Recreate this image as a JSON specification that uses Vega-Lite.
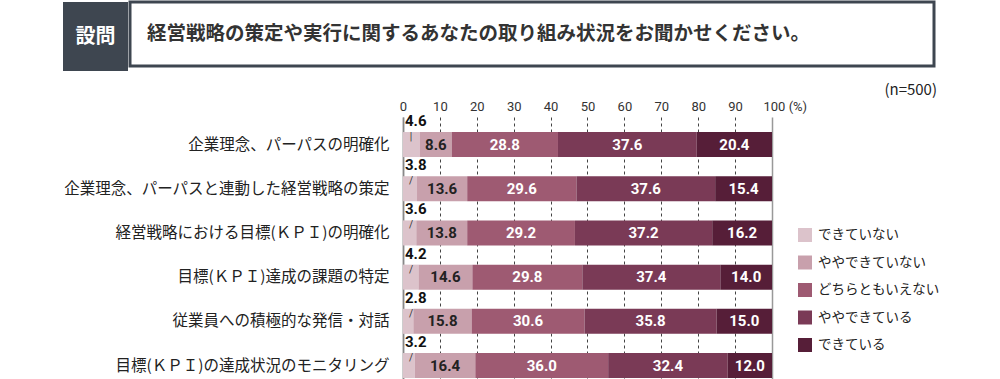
{
  "$schema": "https://vega.github.io/schema/vega-lite/v6.json",
  "padding": {"left": 63, "top": 0, "right": 0, "bottom": 0},
  "background": "white",
  "spacing": 12,
  "resolve": {"scale": {"color": "independent"}, "legend": {"color": "independent"}},
  "config": {"view": {"stroke": null}, "font": "Noto Sans CJK JP", "axis": {"labelOverlap": false}},
  "vconcat": [
    {
      "spacing": 0,
      "hconcat": [
        {
          "width": 65, "height": 69,
          "view": {"fill": "#3e4650", "stroke": null},
          "data": {"values": [{"t": "設問"}]},
          "mark": {"type": "text", "fontSize": 20, "fontWeight": "bold", "color": "white", "baseline": "middle", "align": "center", "font": "Noto Sans CJK JP"},
          "encoding": {"text": {"field": "t", "type": "nominal"}}
        },
        {
          "width": 804, "height": 64,
          "view": {"fill": "white", "stroke": "#3e4650", "strokeWidth": 3},
          "data": {"values": [{"t": "経営戦略の策定や実行に関するあなたの取り組み状況をお聞かせください。"}]},
          "mark": {"type": "text", "fontSize": 19.5, "fontWeight": "bold", "color": "#333", "align": "left", "baseline": "middle", "font": "Noto Sans CJK JP"},
          "encoding": {"text": {"field": "t", "type": "nominal"}, "x": {"value": 17}}
        }
      ]
    },
    {
      "width": 709,
      "height": 262,
      "title": {"text": "(n=500)", "anchor": "end", "frame": "group", "dx": 165, "fontSize": 15, "fontWeight": "normal", "color": "#222", "font": "Noto Sans CJK JP", "offset": 2},
      "data": {"values": [
        {"item": "企業理念、パーパスの明確化", "cat": "できていない", "order": 1, "value": 4.6},
        {"item": "企業理念、パーパスの明確化", "cat": "ややできていない", "order": 2, "value": 8.6},
        {"item": "企業理念、パーパスの明確化", "cat": "どちらともいえない", "order": 3, "value": 28.8},
        {"item": "企業理念、パーパスの明確化", "cat": "ややできている", "order": 4, "value": 37.6},
        {"item": "企業理念、パーパスの明確化", "cat": "できている", "order": 5, "value": 20.4},
        {"item": "企業理念、パーパスと連動した経営戦略の策定", "cat": "できていない", "order": 1, "value": 3.8},
        {"item": "企業理念、パーパスと連動した経営戦略の策定", "cat": "ややできていない", "order": 2, "value": 13.6},
        {"item": "企業理念、パーパスと連動した経営戦略の策定", "cat": "どちらともいえない", "order": 3, "value": 29.6},
        {"item": "企業理念、パーパスと連動した経営戦略の策定", "cat": "ややできている", "order": 4, "value": 37.6},
        {"item": "企業理念、パーパスと連動した経営戦略の策定", "cat": "できている", "order": 5, "value": 15.4},
        {"item": "経営戦略における目標(ＫＰＩ)の明確化", "cat": "できていない", "order": 1, "value": 3.6},
        {"item": "経営戦略における目標(ＫＰＩ)の明確化", "cat": "ややできていない", "order": 2, "value": 13.8},
        {"item": "経営戦略における目標(ＫＰＩ)の明確化", "cat": "どちらともいえない", "order": 3, "value": 29.2},
        {"item": "経営戦略における目標(ＫＰＩ)の明確化", "cat": "ややできている", "order": 4, "value": 37.2},
        {"item": "経営戦略における目標(ＫＰＩ)の明確化", "cat": "できている", "order": 5, "value": 16.2},
        {"item": "目標(ＫＰＩ)達成の課題の特定", "cat": "できていない", "order": 1, "value": 4.2},
        {"item": "目標(ＫＰＩ)達成の課題の特定", "cat": "ややできていない", "order": 2, "value": 14.6},
        {"item": "目標(ＫＰＩ)達成の課題の特定", "cat": "どちらともいえない", "order": 3, "value": 29.8},
        {"item": "目標(ＫＰＩ)達成の課題の特定", "cat": "ややできている", "order": 4, "value": 37.4},
        {"item": "目標(ＫＰＩ)達成の課題の特定", "cat": "できている", "order": 5, "value": 14.0},
        {"item": "従業員への積極的な発信・対話", "cat": "できていない", "order": 1, "value": 2.8},
        {"item": "従業員への積極的な発信・対話", "cat": "ややできていない", "order": 2, "value": 15.8},
        {"item": "従業員への積極的な発信・対話", "cat": "どちらともいえない", "order": 3, "value": 30.6},
        {"item": "従業員への積極的な発信・対話", "cat": "ややできている", "order": 4, "value": 35.8},
        {"item": "従業員への積極的な発信・対話", "cat": "できている", "order": 5, "value": 15.0},
        {"item": "目標(ＫＰＩ)の達成状況のモニタリング", "cat": "できていない", "order": 1, "value": 3.2},
        {"item": "目標(ＫＰＩ)の達成状況のモニタリング", "cat": "ややできていない", "order": 2, "value": 16.4},
        {"item": "目標(ＫＰＩ)の達成状況のモニタリング", "cat": "どちらともいえない", "order": 3, "value": 36.0},
        {"item": "目標(ＫＰＩ)の達成状況のモニタリング", "cat": "ややできている", "order": 4, "value": 32.4},
        {"item": "目標(ＫＰＩ)の達成状況のモニタリング", "cat": "できている", "order": 5, "value": 12.0}
      ]},
      "encoding": {
        "y": {
          "field": "item", "type": "nominal",
          "sort": ["企業理念、パーパスの明確化", "企業理念、パーパスと連動した経営戦略の策定", "経営戦略における目標(ＫＰＩ)の明確化", "目標(ＫＰＩ)達成の課題の特定", "従業員への積極的な発信・対話", "目標(ＫＰＩ)の達成状況のモニタリング"],
          "scale": {"paddingInner": 0.434, "paddingOuter": 0.181, "align": 0.94},
          "axis": {"title": null, "offset": -340, "ticks": false, "tickSize": 0, "domain": true, "domainColor": "#888", "domainWidth": 1.5, "labelPadding": 14, "labelFontSize": 15.5, "labelFont": "Noto Sans CJK JP", "labelColor": "#222", "labelLimit": 500, "grid": false}
        }
      },
      "layer": [
        {
          "mark": {"type": "bar"},
          "encoding": {
            "x": {
              "field": "value", "type": "quantitative", "stack": "zero",
              "scale": {"domain": [-92.14, 100], "nice": false, "zero": false},
              "axis": {
                "orient": "top", "title": null, "values": [0, 10, 20, 30, 40, 50, 60, 70, 80, 90, 100],
                "domain": false, "ticks": false, "tickSize": 0, "labelPadding": 4, "labelOverlap": false, "labelFlush": false,
                "labelFont": "Roboto, Liberation Sans, sans-serif",
                "labelFontSize": 13, "labelColor": "#333",
                "labelExpr": "datum.value == 100 ? '100  (%)' : datum.label",
                "labelAlign": {"condition": {"test": "datum.value == 100", "value": "left"}, "value": "center"},
                "labelOffset": {"condition": {"test": "datum.value == 100", "value": -9}, "value": 0},
                "grid": true,
                "gridDash": {"condition": {"test": "datum.value == 0 || datum.value == 100", "value": [1, 0]}, "value": [3, 3]},
                "gridColor": {"condition": {"test": "datum.value == 0 || datum.value == 100", "value": "#999"}, "value": "#444"},
                "gridWidth": {"condition": {"test": "datum.value == 0 || datum.value == 100", "value": 1.5}, "value": 1}
              }
            },
            "color": {
              "field": "cat", "type": "nominal",
              "scale": {"domain": ["できていない", "ややできていない", "どちらともいえない", "ややできている", "できている"], "range": ["#dcc3cb", "#c8a0ac", "#9e5a72", "#7a3a56", "#561e38"]},
              "legend": {"title": null, "orient": "none", "legendX": 735, "legendY": 111, "symbolType": "square", "symbolSize": 196, "symbolStrokeWidth": 0, "labelFontSize": 13.5, "labelFont": "Noto Sans CJK JP", "labelColor": "#222", "rowPadding": 13.5, "labelOffset": 6, "padding": 0}
            },
            "order": {"field": "order", "type": "quantitative"}
          }
        },
        {
          "mark": {"type": "text", "fontSize": 15, "fontWeight": "bold", "font": "Roboto, Liberation Sans, sans-serif", "baseline": "middle", "align": "center"},
          "encoding": {
            "x": {"field": "value", "type": "quantitative", "stack": "zero", "bandPosition": 0.5},
            "detail": {"field": "cat", "type": "nominal"},
            "order": {"field": "order", "type": "quantitative"},
            "text": {"condition": {"test": "datum.order == 1", "value": ""}, "field": "value", "type": "quantitative", "format": ".1f"},
            "color": {"condition": {"test": "datum.order == 2", "value": "#222"}, "value": "white"}
          }
        },
        {
          "transform": [{"filter": "datum.order == 1"}],
          "mark": {"type": "text", "align": "left", "baseline": "middle", "dx": 2, "dy": -11, "fontSize": 15, "fontWeight": "bold", "font": "Roboto, Liberation Sans, sans-serif", "color": "#111"},
          "encoding": {
            "y": {"field": "item", "type": "nominal", "sort": ["企業理念、パーパスの明確化", "企業理念、パーパスと連動した経営戦略の策定", "経営戦略における目標(ＫＰＩ)の明確化", "目標(ＫＰＩ)達成の課題の特定", "従業員への積極的な発信・対話", "目標(ＫＰＩ)の達成状況のモニタリング"], "bandPosition": 0},
            "x": {"datum": 0, "type": "quantitative"},
            "text": {"field": "value", "type": "quantitative", "format": ".1f"}
          }
        },
        {
          "transform": [{"filter": "datum.order == 1"}],
          "mark": {"type": "text", "align": "center", "baseline": "middle", "dx": 8, "dy": 5, "fontSize": 10, "font": "Roboto, Liberation Sans, sans-serif", "color": "#333"},
          "encoding": {
            "y": {"field": "item", "type": "nominal", "sort": ["企業理念、パーパスの明確化", "企業理念、パーパスと連動した経営戦略の策定", "経営戦略における目標(ＫＰＩ)の明確化", "目標(ＫＰＩ)達成の課題の特定", "従業員への積極的な発信・対話", "目標(ＫＰＩ)の達成状況のモニタリング"], "bandPosition": 0},
            "x": {"datum": 0, "type": "quantitative"},
            "text": {"condition": {"test": "datum.item == '企業理念、パーパスの明確化'", "value": "|"}, "value": "/"}
          }
        }
      ]
    }
  ]
}
